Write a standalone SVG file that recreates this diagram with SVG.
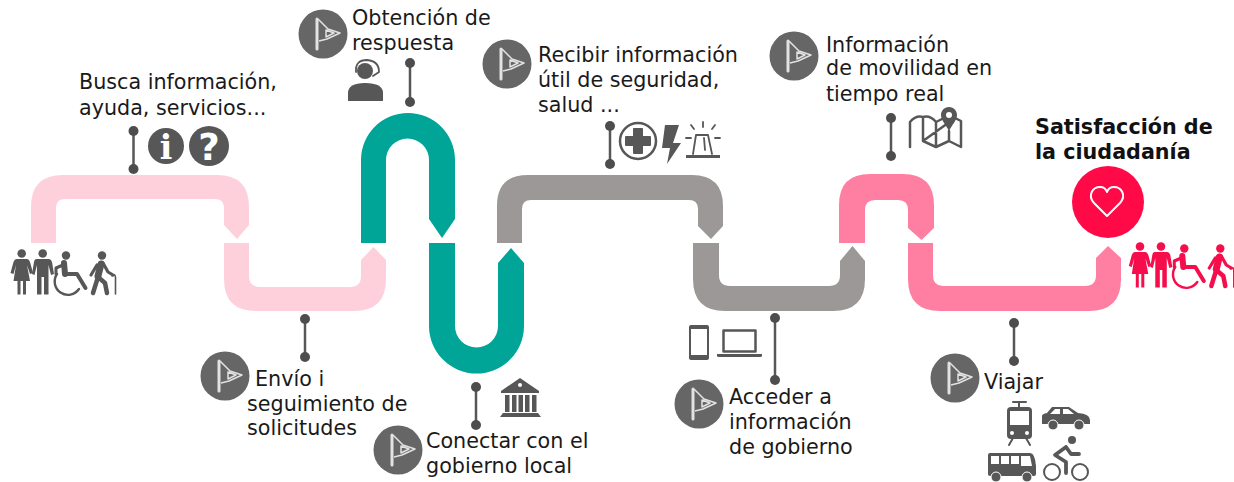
<svg xmlns="http://www.w3.org/2000/svg" xmlns:xlink="http://www.w3.org/1999/xlink" width="1234" height="482" viewBox="0 0 1234 482">
<style>
text{font-family:"DejaVu Sans","Verdana",sans-serif;font-size:20.7px;fill:#1a1a1a}
.b{font-weight:700;font-size:20.7px;fill:#111}
.dark{fill:#575757}
.line{stroke:#575757;fill:none;stroke-linecap:round;stroke-linejoin:round}
.wl{stroke:#fff;fill:none;stroke-linecap:round;stroke-linejoin:round}
.pin{stroke:#575757;stroke-width:2.5}
.pin circle{fill:#4d4d4d;stroke:none}
.fl{fill:none;stroke:#e2e2e2;stroke-width:1.5;stroke-linejoin:round}
.ring{fill:#666}
.ps{fill:none;stroke:currentColor;stroke-linecap:round;stroke-linejoin:round}
</style>
<defs>
<g id="flag"><circle class="ring" r="24.5"/><path d="M-6-15V15" stroke="#e2e2e2" stroke-width="3" stroke-linecap="round"/><path class="fl" d="M-5-15L5-5L17-1L4 5L-4 7M3-4L11-1L3 3Z"/></g>
<g id="people">
<circle cx="21.700" cy="253.500" r="4.300"/>
<path d="M16.500 259H27Q29 259 30 262L33 273L30 274L27 265L30 281H26V294.500H23V281H20.500V294.500H17.500V281H13.500L16 265L13.500 274L10.500 273L13.500 262Q14.500 259 16.500 259Z"/>
<circle cx="42.700" cy="253.500" r="4.300"/>
<path d="M36.500 259H49Q51 259 52 262L54 274L51 275L48.500 265V294.500H44V277H41.500V294.500H37V265L34.500 275L32 274L34 262Q34.500 259 36.500 259Z"/>
<circle cx="66" cy="255.500" r="4.200"/>
<path class="ps" stroke-width="6" d="M64 263L65 274"/>
<path class="ps" stroke-width="4" d="M65 274H77L85.500 288"/>
<path class="ps" stroke-width="3" d="M63 265L56 268L56 274"/>
<path class="ps" stroke-width="2.400" d="M57 274A12.800 12.800 0 1 0 79 289"/>
<circle cx="102" cy="255.500" r="4.200"/>
<path class="ps" stroke-width="7" d="M101 264L98 276"/>
<path class="ps" stroke-width="4.500" d="M98 277L93 293M98 277L105 283L107 293"/>
<path class="ps" stroke-width="3.200" d="M103 263L108 272L113 275M97 265L91 275"/>
<path class="ps" stroke-width="1.600" d="M112 276Q115 273 115.500 277V294"/>
</g>
</defs>

<g id="connectors">
<path id="band1" fill="#fdd0dc" d="M31 243V207Q31 175 63 175H217Q249 175 249 207V225L237 239L224 225V208Q224 199 215 199H65Q56 199 56 208V243Z"/>
<path id="band2" fill="#fdd0dc" d="M224 243H249V276Q249 287 260 287H350Q361 287 361 276V260L373.500 247L386 260V279Q386 311 354 311H256Q224 311 224 279Z"/>
<path id="band3" fill="#00a598" d="M361 243V160A47 47 0 0 1 455 160V219L442 238L429 219V160A21.500 21.500 0 0 0 386 160V243Z"/>
<path id="band4" fill="#00a598" d="M429 243H455V326A21.500 21.500 0 0 0 498 326V263L511 248L524 263V326A47.500 47.500 0 0 1 429 326Z"/>
<path id="band5" fill="#9b9897" d="M497 243V206Q497 175 528 175H692Q723 175 723 206V226L711 239L698 226V209Q698 200 689 200H531Q522 200 522 209V243Z"/>
<path id="band6" fill="#9b9897" d="M693 243H719V275Q719 286 730 286H829Q840 286 840 275V261L852.500 246L865 261V279Q865 311 833 311H725Q693 311 693 279Z"/>
<path id="band7" fill="#ff7fa3" d="M839 243V205Q839 174 870 174H903Q934 174 934 205V228L921.500 240L908 228V210Q908 200 898 200H875Q865 200 865 210V243Z"/>
<path id="band8" fill="#ff7fa3" d="M908 243H933V275Q933 286 944 286H1085Q1096 286 1096 275V258L1108 246L1121 258V279Q1121 311 1089 311H940Q908 311 908 279Z"/>
</g>

<g id="pins">
<g class="pin"><path d="M133.500 131V169"/><circle cx="133.500" cy="131" r="5"/><circle cx="133.500" cy="169" r="5"/></g>
<g class="pin"><path d="M410 63V102"/><circle cx="410" cy="63" r="5"/><circle cx="410" cy="102" r="5"/></g>
<g class="pin"><path d="M610 126V164"/><circle cx="610" cy="126" r="5"/><circle cx="610" cy="164" r="5"/></g>
<g class="pin"><path d="M305 319V357"/><circle cx="305" cy="319" r="5"/><circle cx="305" cy="357" r="5"/></g>
<g class="pin"><path d="M476 387V425"/><circle cx="476" cy="387" r="5"/><circle cx="476" cy="425" r="5"/></g>
<g class="pin"><path d="M775 318V380"/><circle cx="775" cy="318" r="5"/><circle cx="775" cy="380" r="5"/></g>
<g class="pin"><path d="M1014 323V361"/><circle cx="1014" cy="323" r="5"/><circle cx="1014" cy="361" r="5"/></g>
<g class="pin"><path d="M891 118V156"/><circle cx="891" cy="118" r="5"/><circle cx="891" cy="156" r="5"/></g>
</g>

<g id="start-people" fill="#575757" color="#575757"><use xlink:href="#people" href="#people"/></g>
<g id="end-people" fill="#f50d4c" color="#f50d4c" transform="translate(1118.300 -7)"><use xlink:href="#people" href="#people"/></g>

<g id="node-busca">
<text x="79" y="89">Busca información,</text><text x="79" y="115">ayuda, servicios...</text>
<circle class="dark" cx="166" cy="146" r="18"/><text x="166" y="159" text-anchor="middle" style="font-family:'DejaVu Serif',serif;font-weight:700;font-size:33px;fill:#fff">i</text>
<circle class="dark" cx="209" cy="146" r="20"/><text x="209" y="160" text-anchor="middle" style="font-weight:700;font-size:37px;fill:#fff">?</text>
</g>
<g id="node-envio"><use href="#flag" xlink:href="#flag" x="225" y="376"/>
<text x="255" y="386">Envío i</text><text x="247" y="411">seguimiento de</text><text x="247" y="435">solicitudes</text></g>
<g id="node-obtencion"><use href="#flag" xlink:href="#flag" x="323" y="34"/>
<text x="352" y="25">Obtención de</text><text x="352" y="50">respuesta</text>
<circle class="dark" cx="365" cy="71" r="8"/><path class="line" stroke-width="1.800" d="M356 72Q355 60 367 60Q379 61 379 72L373 76"/>
<path class="dark" d="M348 101V93Q348 83 365 83Q383 83 383 93V101Z"/></g>
<g id="node-conectar"><use href="#flag" xlink:href="#flag" x="398" y="450"/>
<text x="426" y="448">Conectar con el</text><text x="426" y="473">gobierno local</text>
<path class="dark" d="M520 378L539 391V393H501V391Z"/><circle cx="520" cy="385" r="2" fill="#fff"/>
<path class="dark" d="M505 395H509.500V412H505ZM512 395H516.500V412H512ZM518.500 395H523V412H518.500ZM525 395H529.500V412H525ZM532 395H536.500V412H532ZM503 413H538L541 417H500Z"/></g>
<g id="node-recibir"><use href="#flag" xlink:href="#flag" x="507" y="64"/>
<text x="538" y="62">Recibir información</text><text x="538" y="87">útil de seguridad,</text><text x="538" y="112">salud ...</text>
<circle class="line" cx="638" cy="141" r="18" stroke-width="2.500"/>
<path class="dark" d="M634 128H642Q643 128 643 129V136H650Q651 136 651 137V145Q651 146 650 146H643V153Q643 154 642 154H634Q633 154 633 153V146H626Q625 146 625 145V137Q625 136 626 136H633V129Q633 128 634 128Z"/>
<path class="dark" d="M665 125H679L673 143H681L667 164L670 148H662Z"/>
<path class="dark" d="M686 155H720V158H686Z"/>
<path class="line" stroke-width="1.800" d="M693 154L696 135H708L712 154M704 138L705 150M703 122V127M691 125L694 129M715 125L712 129M686 138H691M715 138H720"/></g>
<g id="node-acceder"><use href="#flag" xlink:href="#flag" x="699" y="404"/>
<text x="729" y="404">Acceder a</text><text x="729" y="429">información</text><text x="729" y="454">de gobierno</text>
<rect class="dark" x="689" y="325" width="20" height="35" rx="2"/><rect x="691" y="329" width="16" height="26" fill="#fff"/>
<rect class="line" x="723.500" y="330.500" width="32" height="21" stroke-width="2.500"/><path class="dark" d="M717 354H762V356Q762 357 760 357H719Q717 357 717 356Z"/></g>
<g id="node-informacion"><use href="#flag" xlink:href="#flag" x="794" y="56"/>
<text x="826" y="52">Información</text><text x="826" y="75">de movilidad en</text><text x="826" y="101">tiempo real</text>
<path class="line" stroke-width="2.500" d="M910 147V122Q916 115 923 117Q930 115 936 122L942 119M955 118L961 121V147L949 141L936 147L923 141ZM923 117V141M936 122V147M949 131V141"/>
<path class="dark" d="M949 107C944 107 941 111 941 115C941 120 946 125 949 131C952 125 957 120 957 115C957 111 954 107 949 107Z"/><circle cx="949" cy="115" r="3" fill="#fff"/></g>
<g id="node-viajar"><use href="#flag" xlink:href="#flag" x="955" y="378"/>
<text x="984" y="389">Viajar</text>
<path class="line" stroke-width="2" d="M1013 402H1026M1019 402V407M1013 438L1009 445M1026 438L1030 445"/>
<rect class="dark" x="1007" y="407" width="25" height="32" rx="4"/><rect x="1010" y="411" width="19" height="14" fill="#fff"/><circle cx="1012" cy="433" r="2" fill="#fff"/><circle cx="1027" cy="433" r="2" fill="#fff"/>
<path class="dark" d="M1042 424V416Q1042 414 1047 413L1052 407H1069L1078 413Q1090 414 1090 420V424Z"/><path d="M1055 409H1060V414H1050ZM1063 409H1068L1074 414H1063Z" fill="#fff"/>
<circle cx="1053" cy="425" r="5" class="dark" stroke="#fff"/><circle cx="1079" cy="425" r="5" class="dark" stroke="#fff"/>
<path class="dark" d="M990 453H1030Q1035 453 1036 466V474Q1036 476 1034 476H990Q988 476 988 474V455Q988 453 990 453Z"/><path d="M991 456H999V464H991ZM1001 456H1009V464H1001ZM1011 456H1019V464H1011ZM1021 456H1030L1032 466H1021Z" fill="#fff"/>
<circle cx="996" cy="477" r="5" class="dark" stroke="#fff"/><circle cx="1027" cy="477" r="5" class="dark" stroke="#fff"/>
<circle class="line" cx="1052" cy="472" r="8" stroke-width="2"/><circle class="line" cx="1080" cy="472" r="8" stroke-width="2"/><circle class="dark" cx="1072" cy="440" r="4"/>
<path class="line" stroke-width="3.800" d="M1066 447L1055 455L1066 462V473M1066 447L1071 454H1079"/></g>
<g id="node-satisfaccion">
<text class="b" x="1035" y="134">Satisfacción de</text><text class="b" x="1035" y="159">la ciudadanía</text>
<circle cx="1108" cy="202" r="36" fill="#ff0a47"/>
<path class="wl" stroke-width="2" d="M1107 216L1094 203C1087 195 1093 187 1100 187C1103 187 1106 189 1107 192C1108 189 1111 187 1114 187C1121 187 1127 195 1120 203Z"/></g>
</svg>
